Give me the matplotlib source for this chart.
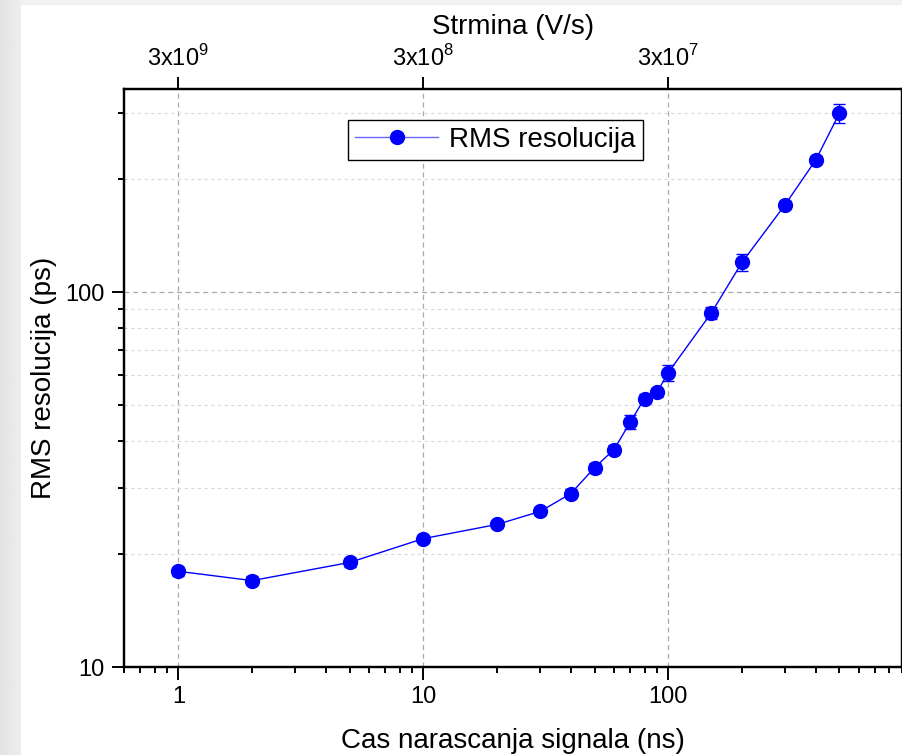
import numpy as np
import matplotlib
matplotlib.use("Agg")
import matplotlib.pyplot as plt
from matplotlib.lines import Line2D
from matplotlib.ticker import LogLocator, NullFormatter, FixedLocator

plt.rcParams['font.family'] = ['Liberation Sans', 'DejaVu Sans']
plt.rcParams['mathtext.fontset'] = 'custom'
plt.rcParams['mathtext.rm'] = 'Liberation Sans'

# rise time (ns) vs RMS timing resolution (ps)
rise_ns = [1, 2, 5, 10, 20, 30, 40, 50, 60, 70, 80, 90, 100, 150, 200, 300, 400, 500]
rms_ps = [18, 17, 19, 22, 24, 26, 29, 34, 38, 45, 52, 54, 61, 88, 120, 171, 225, 300]
rms_err = [0.5, 0.5, 0.5, 0.5, 0.5, 0.5, 0.8, 1, 1, 2, 1.5, 1.5, 3, 3, 6, 4, 5, 18]

top_ticks = [1, 10, 100]
top_labels = [r'3x10$^{\mathregular{9}}$', r'3x10$^{\mathregular{8}}$', r'3x10$^{\mathregular{7}}$']

fig = plt.figure(figsize=(9.03, 7.55), dpi=100)

# grey strip on the left edge and thin band on top
bg = fig.add_axes([0, 0, 21 / 903, 1])
grad = np.linspace(0.89, 0.93, 32).reshape(1, -1)
bg.imshow(grad, aspect='auto', cmap='gray', vmin=0, vmax=1, extent=[0, 1, 0, 1])
bg.axis('off')
fig.patches.append(plt.Rectangle((21 / 903, 1 - 4 / 755), 1, 4 / 755,
                                 transform=fig.transFigure, color='#f1f1f1', zorder=0))

ax = fig.add_axes([124 / 903, 1 - 667 / 755, 778 / 903, 578 / 755])
ax.set_xscale('log')
ax.set_yscale('log')
ax.set_xlim(0.6, 900)
ax.set_ylim(10, 348)

ax.errorbar(rise_ns, rms_ps, yerr=rms_err, fmt='-o', color='blue', lw=1,
            markersize=10, elinewidth=1, capsize=4.5, capthick=1, zorder=3)

ax.xaxis.set_major_locator(FixedLocator([1, 10, 100]))
ax.xaxis.set_minor_locator(LogLocator(base=10, subs=np.arange(2, 10)))
ax.xaxis.set_minor_formatter(NullFormatter())
ax.set_xticklabels(['1', '10', '100'])
ax.yaxis.set_major_locator(FixedLocator([10, 100]))
ax.yaxis.set_minor_locator(LogLocator(base=10, subs=np.arange(2, 10)))
ax.yaxis.set_minor_formatter(NullFormatter())
ax.set_yticklabels(['10', '100'])

ax.tick_params(which='major', direction='out', length=9, width=1.4, labelsize=17, pad=5)
ax.tick_params(which='minor', direction='out', length=4.5, width=1.4)
ax.tick_params(right=False, top=False, which='both')

ax.grid(True, axis='x', which='major', color='#a8a8a8', ls=(0, (4, 3)), lw=0.9)
ax.grid(True, axis='y', which='major', color='#a8a8a8', ls=(0, (4, 3)), lw=0.9)
ax.grid(True, axis='y', which='minor', color='#d8d8d8', ls=(0, (3, 3)), lw=0.8)
ax.set_axisbelow(True)

for s in ax.spines.values():
    s.set_linewidth(1.6)

ax.set_xlabel('Cas narascanja signala (ns)', fontsize=20, labelpad=14)
ax.set_ylabel('RMS resolucija (ps)', fontsize=20, labelpad=6)

top = ax.twiny()
top.set_xscale('log')
top.set_xlim(ax.get_xlim())
top.set_xticks(top_ticks)
top.set_xticklabels(top_labels)
top.set_xticks([], minor=True)
top.tick_params(which='major', direction='out', length=9, width=1.4, labelsize=17, pad=4)
top.set_xlabel('Strmina (V/s)', fontsize=20, labelpad=8)
for s in top.spines.values():
    s.set_linewidth(1.6)

handle = Line2D([], [], color='#6a6aff', lw=1, marker='o', markersize=10,
                markerfacecolor='blue', markeredgecolor='blue')
leg = ax.legend([handle], ['RMS resolucija'], loc='upper left',
                bbox_to_anchor=(0.288, 0.946), fontsize=20,
                fancybox=False, edgecolor='black', framealpha=1,
                handlelength=3.0, borderpad=0.25, handletextpad=0.4,
                borderaxespad=0)
leg.get_frame().set_linewidth(1.0)

fig.savefig('out.png', dpi=100)
